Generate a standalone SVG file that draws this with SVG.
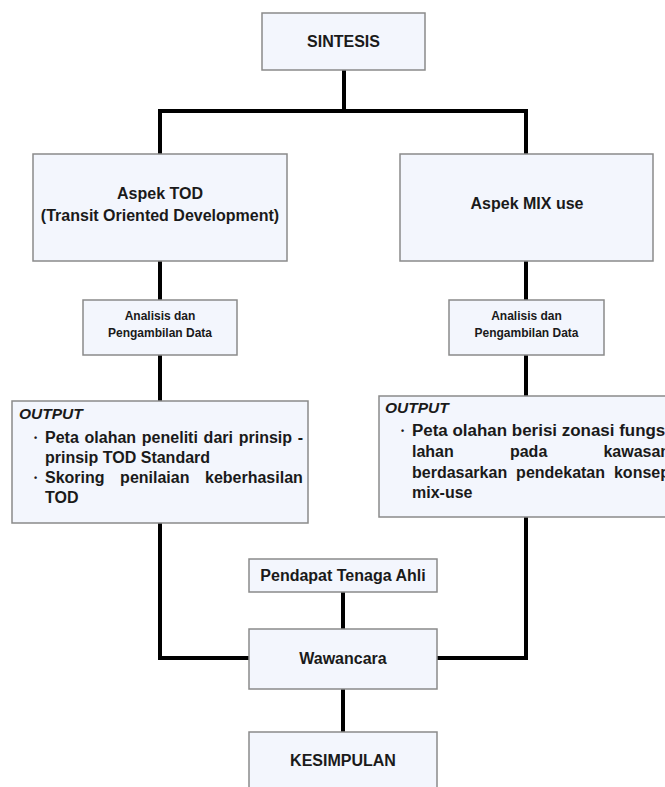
<svg xmlns="http://www.w3.org/2000/svg" width="665" height="787" viewBox="0 0 665 787">
<style>
.box{fill:#f3f6fd;stroke:#8a8a8a;stroke-width:1.5}
.t{font-family:"Liberation Sans",Arial,sans-serif;font-weight:bold;fill:#1a1a1a}
.c{text-anchor:middle}
.f16{font-size:16px}
.f12{font-size:12px}
.it{font-style:italic;font-size:15.5px}
.bul{font-size:9px}
.conn{fill:none;stroke:#000;stroke-width:4;stroke-linejoin:miter;stroke-linecap:butt}
</style>
<rect width="665" height="787" fill="#fff"/>
<g id="connectors">
<path class="conn" d="M344 70 V111"/>
<path class="conn" d="M160 154 V111 H526 V154"/>
<path class="conn" d="M160 261 V300 M160 355 V401 M160 523 V658 H249"/>
<path class="conn" d="M526 261 V300 M526 355 V396 M526 517 V658 H437"/>
<path class="conn" d="M343 592 V629 M343 689 V732"/>
</g>
<g id="sintesis">
<rect class="box" x="262" y="13" width="163" height="57"/>
<text class="t c f16" x="343.5" y="47">SINTESIS</text>
</g>
<g id="aspek-tod">
<rect class="box" x="33" y="154" width="254" height="107"/>
<text class="t c f16" x="160" y="199">Aspek TOD</text>
<text class="t c f16" x="160" y="221">(Transit Oriented Development)</text>
</g>
<g id="aspek-mix">
<rect class="box" x="400" y="154" width="253" height="107"/>
<text class="t c f16" x="527" y="209">Aspek MIX use</text>
</g>
<g id="analisis-tod">
<rect class="box" x="83" y="300" width="154" height="55"/>
<text class="t c f12" x="160" y="320">Analisis dan</text>
<text class="t c f12" x="160" y="337">Pengambilan Data</text>
</g>
<g id="analisis-mix">
<rect class="box" x="449" y="300" width="155" height="55"/>
<text class="t c f12" x="526.5" y="320">Analisis dan</text>
<text class="t c f12" x="526.5" y="337">Pengambilan Data</text>
</g>
<g id="output-tod">
<rect class="box" x="12" y="401" width="296" height="122"/>
<text class="t it" x="19" y="419">OUTPUT</text>
<text class="t bul" x="34" y="441">•</text>
<text class="t f16" x="45" y="443" word-spacing="1.3">Peta olahan peneliti dari prinsip -</text>
<text class="t f16" x="45" y="463">prinsip TOD Standard</text>
<text class="t bul" x="34" y="481">•</text>
<text class="t f16" x="45" y="483" word-spacing="11.1">Skoring penilaian keberhasilan</text>
<text class="t f16" x="45" y="503">TOD</text>
</g>
<g id="output-mix">
<rect class="box" x="379" y="396" width="300" height="121"/>
<text class="t it" x="385" y="413">OUTPUT</text>
<text class="t bul" x="401" y="434">•</text>
<text class="t f16" x="412" y="436" textLength="258" lengthAdjust="spacingAndGlyphs">Peta olahan berisi zonasi fungsi</text>
<text class="t f16" x="412" y="457" word-spacing="51.7">lahan pada kawasan</text>
<text class="t f16" x="412" y="478" word-spacing="4.5">berdasarkan pendekatan konsep</text>
<text class="t f16" x="412" y="498">mix-use</text>
</g>
<g id="pendapat">
<rect class="box" x="249" y="559" width="188" height="33"/>
<text class="t c f16" x="343" y="581">Pendapat Tenaga Ahli</text>
</g>
<g id="wawancara">
<rect class="box" x="249" y="629" width="188" height="60"/>
<text class="t c f16" x="343" y="664">Wawancara</text>
</g>
<g id="kesimpulan">
<rect class="box" x="249" y="732" width="188" height="62"/>
<text class="t c f16" x="343" y="766">KESIMPULAN</text>
</g>
</svg>
